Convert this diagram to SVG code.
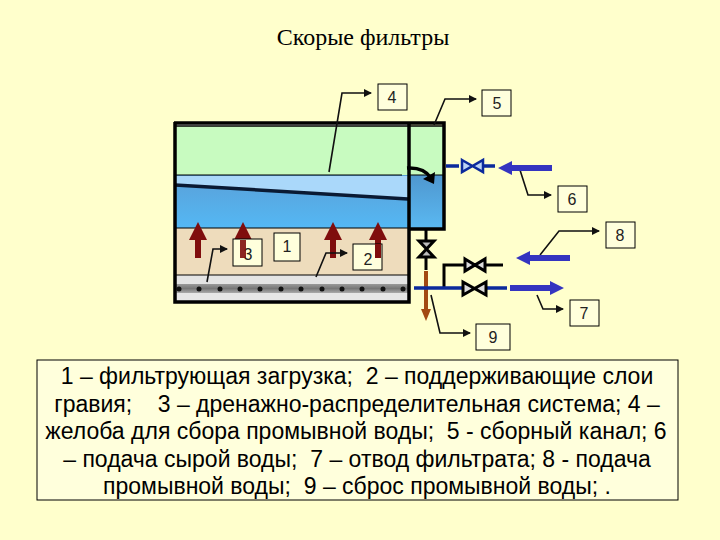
<svg xmlns="http://www.w3.org/2000/svg" width="720" height="540" viewBox="0 0 720 540">
<style>
.lb{fill:#ffffdc;stroke:#000;stroke-width:1}
.lt{font-family:"Liberation Sans",Arial,sans-serif;font-size:16px;fill:#222;text-anchor:middle}
.ld{fill:none;stroke:#111;stroke-width:1.6}
.ar{fill:#7f0d0d}
.bp{stroke:#0b2a9c;stroke-width:3.5;fill:none}
.kp{stroke:#000;stroke-width:3;fill:none}
.vb{fill:#ddd;stroke:#000;stroke-width:3}
.vc{fill:#bcd4f5;stroke:#0b2a9c;stroke-width:2.5}
.big{fill:#3434c0}
.leg{font-family:"Liberation Sans",Arial,sans-serif;font-size:23px;fill:#000;text-anchor:middle;white-space:pre}
</style>
<defs>
<marker id="a" markerWidth="9" markerHeight="8" refX="7" refY="4" orient="auto" markerUnits="userSpaceOnUse"><path d="M0 0L8 4L0 8Z" fill="#111"/></marker>
<linearGradient id="w" x1="0" y1="0" x2="0" y2="1"><stop offset="0" stop-color="#5aa0d8"/><stop offset="1" stop-color="#54b8f4"/></linearGradient>
<linearGradient id="w2" x1="0" y1="0" x2="0" y2="1"><stop offset="0" stop-color="#4f97cf"/><stop offset="1" stop-color="#5ab9f2"/></linearGradient>
<linearGradient id="g" x1="0" y1="0" x2="0" y2="1"><stop offset="0" stop-color="#999"/><stop offset=".5" stop-color="#777"/><stop offset="1" stop-color="#aaa"/></linearGradient>
</defs>
<rect width="720" height="540" fill="#ffffcc"/>
<text x="363" y="45" font-family="Liberation Serif,Times New Roman,serif" font-size="24" text-anchor="middle" fill="#000">Скорые фильтры</text>

<g id="filter">
<rect x="174" y="124" width="234" height="177" fill="#fff"/>
<rect x="175" y="126" width="233" height="49" fill="#c8fbc0"/>
<rect x="175" y="175" width="233" height="53" fill="url(#w)"/>
<path d="M175 176H408V199L175 185Z" fill="#aad8fa"/>
<rect x="175" y="228" width="233" height="47" fill="#eedcbc"/>
<rect x="175" y="275" width="233" height="9" fill="#e4e4e4"/>
<rect x="175" y="284" width="233" height="9" fill="url(#g)"/>
<rect x="175" y="293" width="233" height="8" fill="#e6e6e6"/>
<path d="M175 175H402M175 228H408M175 275H408" stroke="#000" stroke-width="1.2" fill="none"/>
<path d="M175 185L408 199" stroke="#0a1a33" stroke-width="3.5"/>
<g fill="#111"><circle cx="179" cy="289" r="2.5"/><circle cx="199" cy="289" r="2.5"/><circle cx="220" cy="289" r="2.5"/><circle cx="240" cy="289" r="2.5"/><circle cx="260" cy="289" r="2.5"/><circle cx="281" cy="289" r="2.5"/><circle cx="301" cy="289" r="2.5"/><circle cx="322" cy="289" r="2.5"/><circle cx="342" cy="289" r="2.5"/><circle cx="362" cy="289" r="2.5"/><circle cx="383" cy="289" r="2.5"/><circle cx="403" cy="289" r="2.5"/></g>
</g>
<g id="channel">
<rect x="409" y="126" width="35" height="49" fill="#c8fbc0"/>
<rect x="409" y="175" width="35" height="54" fill="url(#w2)"/>
<path d="M409 175H444" stroke="#000" stroke-width="1"/>
<path d="M174 123H444V229H408" fill="none" stroke="#000" stroke-width="3.5"/>
<path d="M175 126H444" stroke="#000" stroke-width="1.5"/>
<path d="M175 122V302H409V124" fill="none" stroke="#000" stroke-width="3.5"/>
<path d="M407 168Q424 167 431 178" fill="none" stroke="#000" stroke-width="3.5"/>
<path d="M423 179L435 172L434 184Z" fill="#000"/>
</g>
<g id="up-arrows">
<path class="ar" d="M198 222L207 240H201V258H195V240H189Z"/>
<path class="ar" d="M243 222L252 240H246V258H240V240H234Z"/>
<path class="ar" d="M333 222L342 240H336V258H330V240H324Z"/>
<path class="ar" d="M378 222L387 240H381V258H375V240H369Z"/>
</g>

<g id="connectors">
<path class="ld" d="M329 172L342 93H371" marker-end="url(#a)"/>
<path class="ld" d="M434 125L445 99H476" marker-end="url(#a)"/>
<path class="ld" d="M520 170L528 195H551" marker-end="url(#a)"/>
<path class="ld" d="M540 255L559 231H599" marker-end="url(#a)"/>
<path class="ld" d="M537 295L543 309H563" marker-end="url(#a)"/>
<path class="ld" d="M431 295L440 333H470" marker-end="url(#a)"/>
<path class="ld" d="M207 282L213 249H227" marker-end="url(#a)"/>
<path class="ld" d="M316 277L326 253H347" marker-end="url(#a)"/>
</g>

<g id="label-3"><rect class="lb" x="233" y="239" width="29" height="27"/><text class="lt" x="248" y="260">3</text></g>
<path class="ar" d="M240 240H246V258H240Z" opacity=".9"/>
<g id="label-1"><rect class="lb" x="274" y="233" width="26" height="28"/><text class="lt" x="287" y="252">1</text></g>
<g id="label-2"><rect class="lb" x="353" y="244" width="29" height="26"/><text class="lt" x="368" y="265">2</text></g>
<path class="ar" d="M375 244H381V258H375Z"/>
<g id="label-4"><rect class="lb" x="378" y="84" width="29" height="26"/><text class="lt" x="392" y="103">4</text></g>
<g id="label-5"><rect class="lb" x="482" y="90" width="29" height="26"/><text class="lt" x="497" y="109">5</text></g>
<g id="label-6"><rect class="lb" x="558" y="186" width="29" height="26"/><text class="lt" x="572" y="205">6</text></g>
<g id="label-8"><rect class="lb" x="606" y="222" width="29" height="26"/><text class="lt" x="620" y="241">8</text></g>
<g id="label-7"><rect class="lb" x="570" y="300" width="29" height="26"/><text class="lt" x="584" y="319">7</text></g>
<g id="label-9"><rect class="lb" x="476" y="324" width="34" height="26"/><text class="lt" x="493" y="343">9</text></g>

<g id="pipes">
<path class="bp" d="M446 166H459M484 166H495"/>
<path class="vc" d="M462 160L483 172V160L462 172Z"/>
<path class="big" d="M498 168L512 161V165H552V171H512V175Z"/>
<path class="kp" d="M426 230V240M426 258V270"/>
<path d="M419 241H434L419 257H434Z" fill="#bbb" stroke="#000" stroke-width="3"/>
<path d="M426 271V312" stroke="#a34a12" stroke-width="4"/>
<path d="M426 321L421 309H431Z" fill="#a34a12"/>
<path class="kp" d="M444 288V265H464M486 265H503"/>
<path class="vb" d="M465 259L485 271V259L465 271Z"/>
<path class="bp" d="M414 288H462M487 288H507"/>
<path class="vb" d="M463 282L486 295V282L463 295Z"/>
<path class="big" d="M516 258L530 251V255H570V261H530V265Z"/>
<path class="big" d="M510 285H550V281L564 288L550 295V291H510Z"/>
</g>

<g id="legend">
<rect x="37" y="360" width="641" height="140" fill="#ffffdc" stroke="#000" stroke-width="1"/>
<text class="leg" x="357" y="384" xml:space="preserve">1 – фильтрующая загрузка;  2 – поддерживающие слои</text>
<text class="leg" x="357" y="412" xml:space="preserve">гравия;    3 – дренажно-распределительная система; 4 –</text>
<text class="leg" x="356" y="439" xml:space="preserve">желоба для сбора промывной воды;  5 - сборный канал; 6</text>
<text class="leg" x="357" y="467" xml:space="preserve">– подача сырой воды;  7 – отвод фильтрата; 8 - подача</text>
<text class="leg" x="357" y="494" xml:space="preserve">промывной воды;  9 – сброс промывной воды; .</text>
</g>
</svg>
